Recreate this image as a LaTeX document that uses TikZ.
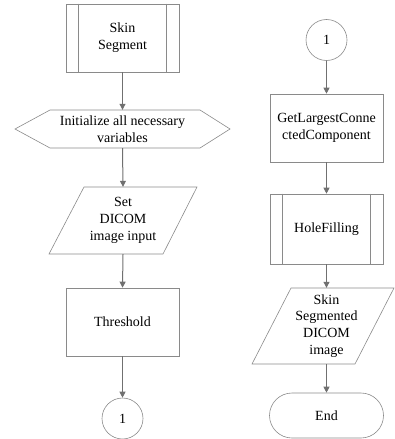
\documentclass[tikz,border=0pt]{standalone}
\usepackage{fontspec}
\setmainfont{Liberation Serif}
\usetikzlibrary{shapes.misc,arrows.meta}
\definecolor{linegray}{HTML}{8A8A8A}
\definecolor{arrowgray}{HTML}{707070}
\begin{document}
\begin{tikzpicture}[x=1pt,y=-1pt,
  txt/.style={font=\fontsize{14}{16.8}\selectfont, align=center, inner sep=0pt, text=black},
  box/.style={txt, draw=linegray, line width=0.6pt, rectangle, minimum width=113pt, minimum height=68pt},
  ghost/.style={txt, minimum width=113pt},
  conn/.style={txt, circle, draw=linegray, line width=0.6pt, minimum size=41pt},
  term/.style={txt, rounded rectangle, draw=linegray, line width=0.6pt, minimum width=114pt, minimum height=45pt},
  outline/.style={draw=linegray, line width=0.6pt},
  flow/.style={draw=arrowgray, line width=1pt, -{Triangle[length=6pt,width=6pt]}}
]
\useasboundingbox (0,0) rectangle (395,439);

% left column
\node[box] (ss) at (122.5,38) {Skin\\Segment};
\draw[outline] ([xshift=13pt]ss.north west) -- ([xshift=13pt]ss.south west);
\draw[outline] ([xshift=-13pt]ss.north east) -- ([xshift=-13pt]ss.south east);

\node[ghost, minimum height=38pt] (init) at (122.5,129) {Initialize all necessary\\variables};
\draw[outline] ([xshift=-107.5pt]init.center) -- ([xshift=-72.5pt,yshift=19pt]init.center)
  -- ([xshift=77.5pt,yshift=19pt]init.center) -- ([xshift=107.5pt]init.center)
  -- ([xshift=77.5pt,yshift=-19pt]init.center) -- ([xshift=-72.5pt,yshift=-19pt]init.center) -- cycle;

\node[ghost, minimum height=67pt] (set) at (123,220.5) {Set\\DICOM\\image input};
\draw[outline] ([xshift=-39pt,yshift=33.5pt]set.center) -- ([xshift=74pt,yshift=33.5pt]set.center)
  -- ([xshift=40pt,yshift=-33.5pt]set.center) -- ([xshift=-74pt,yshift=-33.5pt]set.center) -- cycle;

\node[box] (th) at (122.5,322) {Threshold};
\node[conn] (c1) at (122.5,418.5) {1};

% right column
\node[conn] (c2) at (326.5,40) {1};
\node[box] (glc) at (326.5,128) {GetLargestConne\\ctedComponent};
\node[box, minimum height=70pt] (hf) at (326.5,229) {HoleFilling};
\draw[outline] ([xshift=13pt]hf.north west) -- ([xshift=13pt]hf.south west);
\draw[outline] ([xshift=-13pt]hf.north east) -- ([xshift=-13pt]hf.south east);

\node[ghost, minimum height=76pt] (out) at (326.5,326) {Skin\\Segmented\\DICOM\\image};
\draw[outline] ([xshift=-35.5pt,yshift=38pt]out.center) -- ([xshift=67.5pt,yshift=38pt]out.center)
  -- ([xshift=28.5pt,yshift=-38pt]out.center) -- ([xshift=-74.5pt,yshift=-38pt]out.center) -- cycle;

\node[term] (end) at (326.5,415.5) {End};

% connectors
\draw[flow] (ss.south) -- (init.north);
\draw[flow] (init.south) -- (set.north);
\draw[flow] (set.south) -- (th.north);
\draw[flow] (th.south) -- (c1.north);
\draw[flow] (c2.south) -- (glc.north);
\draw[flow] (glc.south) -- (hf.north);
\draw[flow] (hf.south) -- (out.north);
\draw[flow] (out.south) -- (end.north);
\end{tikzpicture}
\end{document}
